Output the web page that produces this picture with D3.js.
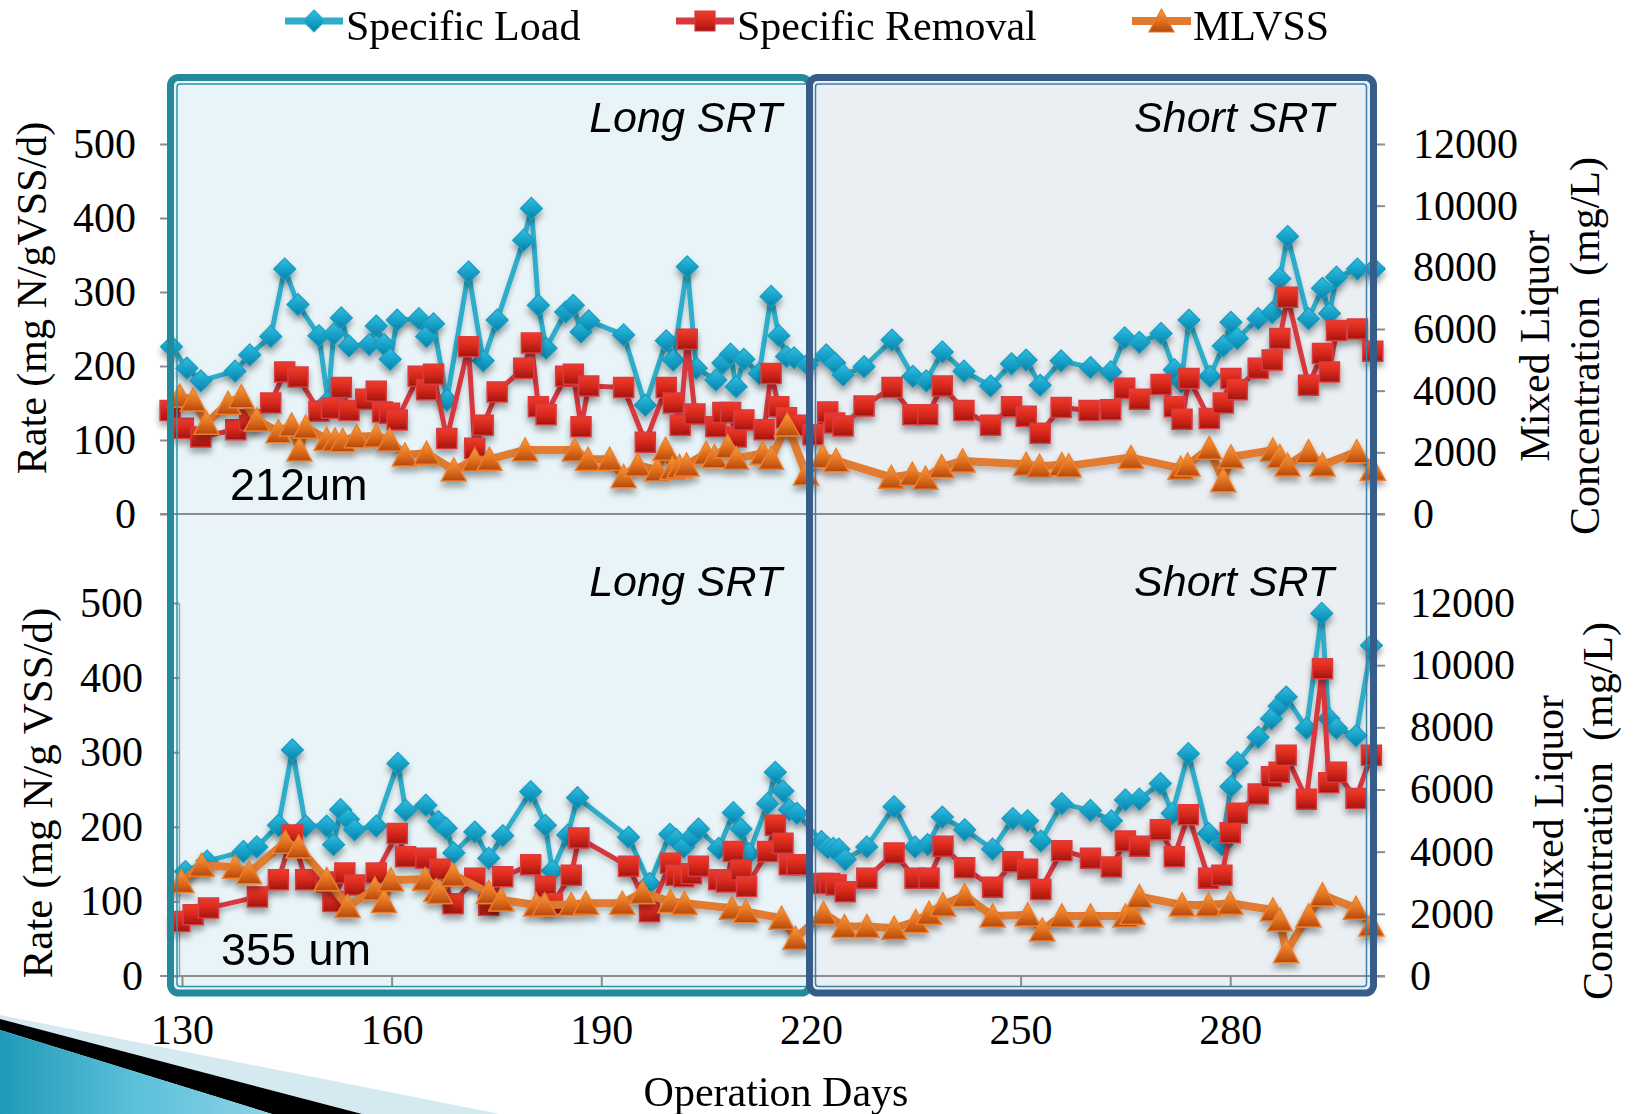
<!DOCTYPE html>
<html><head><meta charset="utf-8">
<script src="https://cdn.jsdelivr.net/npm/d3@7"></script>
<style>
body{margin:0;background:#fff;}
svg{display:block;}
</style>
</head><body>
<svg id="c" width="1635" height="1114"></svg>
<script>
// ---------------- DATA ----------------
const seriesNames = ["Specific Load", "Specific Removal", "MLVSS"];
const xTicks = [130, 160, 190, 220, 250, 280];
const rateTicks = [0, 100, 200, 300, 400, 500];
const mlvssTicks = [0, 2000, 4000, 6000, 8000, 10000, 12000];
const panelLabels = ["212um", "355 um"];
const phaseLabels = ["Long SRT", "Short SRT"];
const leftTitles = ["Rate (mg N/gVSS/d)", "Rate (mg N/g VSS/d)"];
const rightTitle = ["Mixed Liquor", "Concentration  (mg/L)"];
const xTitle = "Operation Days";

// [day, rate mg N/gVSS/d]
const load212 = [[128.5,226],[130.7,197],[132.7,180],[137.6,193],[139.7,215],[142.7,240],[144.7,331],[146.6,283],[149.6,241],[150.9,152],[151.7,243],[152.8,265],[153.9,227],[156.8,229],[157.8,254],[158.9,229],[159.8,209],[160.8,262],[163.9,264],[165,240],[166,257],[167.9,154],[171,327],[173.1,207],[175.1,262],[178.9,370],[180,413],[181,282],[182.1,224],[184.9,273],[186,282],[187.1,246],[188.2,261],[193.2,242],[196.3,147],[199.3,234],[200.3,208],[202.3,334],[203.6,197],[206.4,181],[207.4,204],[208.5,216],[209.3,172],[210.4,209],[212.6,190],[214.3,294],[215.4,241],[216.5,213],[217.6,211],[219.5,202],[222.2,215],[223.4,204],[224.6,188],[227.6,199],[231.6,235],[234.6,186],[236.5,180],[238.8,219],[241.9,193],[245.7,173],[248.7,203],[250.8,208],[252.8,174],[255.8,207],[260,198],[262.9,192],[264.9,238],[267,232],[270.1,244],[272,195],[273,179],[274.1,262],[277.1,186],[279,227],[280.1,259],[281,237],[284,264],[286,272],[287.1,318],[288.2,375],[291.2,264],[293.2,305],[294.2,271],[295.2,320],[298.2,331],[300.6,331]];
const removal212 = [[128.3,140],[130.2,116],[132.7,104],[137.7,114],[139.7,127],[142.7,150],[144.7,192],[146.6,185],[149.6,139],[151.4,143],[152.8,171],[153.9,140],[156.3,155],[157.8,166],[158.7,138],[159.7,136],[160.8,127],[163.8,186],[165,168],[166,189],[167.9,102],[171,226],[171.9,89],[173.1,120],[175.1,165],[178.9,197],[180,231],[181,145],[182.1,134],[184.9,186],[186,189],[187.1,118],[188.2,173],[193.2,171],[196.3,97],[199.3,171],[200.3,150],[201.3,120],[202.3,236],[203.4,135],[206.4,118],[207.4,137],[208.5,137],[209.3,104],[210.4,127],[213.3,114],[214.3,190],[215.4,145],[216.5,130],[218,120],[220.3,107],[222.4,138],[223.4,123],[224.6,119],[227.6,146],[231.6,171],[234.6,134],[236.7,134],[238.8,173],[241.9,140],[245.7,120],[248.7,145],[250.8,132],[252.8,109],[255.8,144],[259.8,140],[262.9,141],[264.9,170],[267,155],[270.1,175],[272,145],[273.1,128],[274.1,183],[277,129],[279,150],[280.1,183],[281,168],[284,197],[286,208],[287.1,237],[288.2,293],[291.2,174],[293.2,217],[294.2,192],[295.2,248],[298.2,250],[300.4,220]];
// [day, MLVSS mg/L]
const mlvss212 = [[129.7,3827],[131.6,3697],[133.5,2941],[136.6,3590],[138.5,3805],[140.7,3049],[143.8,2670],[145.7,2886],[146.8,2076],[147.7,2811],[150.7,2422],[151.9,2400],[153,2378],[155,2508],[157.8,2530],[159.7,2400],[161.9,1913],[165,1968],[168.9,1427],[171.9,1751],[174,1773],[179.1,2076],[186.2,2076],[188.1,1773],[191.2,1773],[193.2,1211],[195.2,1589],[198,1427],[199.2,2098],[200.2,1480],[201.2,1535],[202.2,1589],[205,1968],[206.2,1859],[208.1,2184],[209.3,1806],[213.1,1968],[214.3,1806],[216.6,2886],[219.3,1300],[221.7,1859],[223.6,1730],[231.5,1189],[234.5,1290],[236.4,1157],[238.7,1530],[241.7,1720],[250.8,1610],[252.7,1550],[255.9,1600],[256.9,1560],[265.8,1830],[272.9,1481],[273.9,1589],[277,2130],[279,1075],[280.1,1850],[286.1,2070],[287.1,1859],[288.2,1589],[291.2,2020],[293.2,1590],[298.1,2020],[300.4,1450]];

const load355 = [[130.5,140],[133.6,154],[138.8,167],[140.7,173],[143.8,202],[145.8,303],[147.7,201],[150.7,201],[151.7,176],[152.7,223],[153.8,210],[154.7,196],[157.8,201],[160.9,285],[162,222],[164.9,229],[166.7,207],[167.8,198],[168.9,165],[171.9,193],[173.9,158],[175.9,188],[179.9,247],[182,202],[183,141],[185.2,189],[186.6,239],[193.9,186],[196.9,124],[199.8,190],[200.7,183],[201.8,173],[202.9,186],[203.9,197],[206.8,171],[208.9,219],[210,197],[211.1,164],[213.8,231],[214.9,273],[216,248],[216.9,223],[218,218],[221.5,180],[222.4,172],[223.2,171],[224,170],[224.9,156],[228,173],[231.9,227],[234.9,173],[236.7,176],[238.8,213],[242,196],[246,170],[248.9,211],[251,208],[252.9,181],[255.9,231],[260,222],[263,208],[265,236],[267,237],[270,258],[271.7,218],[274,298],[276.9,191],[278.8,176],[280.1,254],[281,286],[284,320],[285.9,345],[287,362],[288,374],[290.9,332],[293.1,486],[294.1,345],[295.2,332],[298,322],[300.2,443]];
const removal355 = [[129.7,73],[131.6,82],[133.8,91],[140.8,106],[143.8,129],[145.8,189],[147.7,129],[150.7,126],[151.6,100],[153.3,138],[154.7,122],[157.8,138],[160.8,191],[162,160],[164.9,158],[166.9,143],[168.8,97],[171.9,131],[173.9,95],[175.9,133],[179.9,149],[182,120],[183,97],[185.7,135],[186.8,185],[193.9,147],[196.9,86],[199.9,151],[200.7,135],[201.8,133],[202.9,137],[203.9,147],[206.8,129],[207.9,126],[208.9,167],[210,142],[210.8,120],[213.8,167],[214.9,202],[216,178],[216.9,149],[218,149],[221.7,124],[222.7,124],[223.6,122],[224.9,113],[228,131],[231.9,165],[234.9,131],[236.9,131],[238.9,174],[242,145],[246,119],[248.9,153],[251,143],[252.9,116],[255.9,168],[260,158],[263,146],[265,181],[267,174],[270,196],[272,160],[274,216],[276.9,131],[278.8,135],[280,192],[281,218],[284,244],[285.9,267],[287,273],[288,296],[290.9,237],[293.2,412],[294.1,259],[295.2,273],[298,238],[300.2,296]];
const mlvss355 = [[129.9,3037],[132.8,3560],[137.6,3500],[139.6,3320],[144.8,4300],[146.7,4150],[150.7,3100],[153.7,2232],[157.6,2800],[158.9,2393],[159.9,3091],[164.8,3113],[166.4,2750],[166.9,2683],[168.8,3252],[173.9,2683],[175.7,2447],[180.7,2286],[181.9,2286],[185.7,2300],[187.8,2341],[193,2341],[195.9,2683],[199.9,2393],[201.9,2341],[208.7,2179],[210.7,2071],[215.8,1858],[217.8,1214],[221.8,2018],[224.8,1589],[228,1589],[231.9,1535],[235,1750],[236.9,2018],[238.9,2286],[242,2590],[246,1932],[251,1964],[253.1,1481],[255.9,1932],[260,1932],[265,1932],[266,2018],[267,2554],[273.1,2286],[276.9,2286],[280,2341],[286.1,2125],[287.1,1803],[288,782],[291.2,1932],[293.2,2608],[298,2179],[300.2,1642]];

// ---------------- DRAWING ----------------
const svg = d3.select("#c");
const defs = svg.append("defs");
function grad(id, stops, x2 = 0, y2 = 1) {
  const g = defs.append("linearGradient").attr("id", id)
    .attr("x1", 0).attr("y1", 0).attr("x2", x2).attr("y2", y2);
  stops.forEach(([o, c]) => g.append("stop").attr("offset", o).attr("stop-color", c));
}
grad("gBlue", [[0, "#35bfe0"], [0.5, "#17a2c9"], [1, "#0a7fa6"]]);
grad("gRed", [[0, "#f03c2c"], [0.5, "#d6281c"], [1, "#a0150d"]]);
grad("gOrange", [[0, "#f6a03e"], [0.55, "#df6f1e"], [1, "#b4480c"]]);
grad("gDeco", [[0, "#1f9ab8"], [0.5, "#5cc0da"], [1, "#8dd3e6"]], 1, 0);
const f = defs.append("filter").attr("id", "sh").attr("x", "-30%").attr("y", "-30%").attr("width", "160%").attr("height", "180%");
f.append("feDropShadow").attr("dx", 0).attr("dy", 5).attr("stdDeviation", 3)
  .attr("flood-color", "#000").attr("flood-opacity", 0.35);
const fl = defs.append("filter").attr("id", "shl").attr("x", "-5%").attr("y", "-20%").attr("width", "110%").attr("height", "140%");
fl.append("feDropShadow").attr("dx", 0).attr("dy", 4).attr("stdDeviation", 2.5)
  .attr("flood-color", "#000").attr("flood-opacity", 0.22);

const serif = "'Liberation Serif','Times New Roman',serif";
const sans = "'Liberation Sans',Arial,sans-serif";

// bottom-left slide decoration
const deco = svg.append("g");
deco.append("polygon").attr("points", "0,1015 500,1114 360,1114 0,1019").attr("fill", "#d5e9f1");
deco.append("polygon").attr("points", "0,1019 362,1114 272,1114 0,1030").attr("fill", "#000");
deco.append("polygon").attr("points", "0,1030 272,1114 0,1114").attr("fill", "url(#gDeco)");

// frame fills
const frameL = {x: 170.5, y: 77.5, w: 639, h: 915.5};
const frameR = {x: 809.5, y: 77.5, w: 564, h: 915.5};
svg.append("rect").attr("x", frameL.x).attr("y", frameL.y).attr("width", frameL.w).attr("height", frameL.h)
  .attr("rx", 8).attr("fill", "#e8f4f8");
svg.append("rect").attr("x", frameR.x).attr("y", frameR.y).attr("width", frameR.w).attr("height", frameR.h)
  .attr("rx", 8).attr("fill", "#eaeff3");

const x = d3.scaleLinear().domain([128, 301]).range([168, 1377]);

const panels = [
  {load: load212, removal: removal212, mlvss: mlvss212, yBase: 514, yTop: 144,
   leftX: 168, leftTick: 8, leftPad: 24, rightPad: 28, label: panelLabels[0], labelX: 230, labelY: 500,
   phaseY: 132, title: leftTitles[0], titleX: 32, titleY: 298, rtY: 346, rtX1: 1535, rtX2: 1585},
  {load: load355, removal: removal355, mlvss: mlvss355, yBase: 976, yTop: 603,
   leftX: 179, leftTick: 5, leftPad: 31, rightPad: 25, label: panelLabels[1], labelX: 221, labelY: 965,
   phaseY: 596, title: leftTitles[1], titleX: 37, titleY: 793, rtY: 811, rtX1: 1549, rtX2: 1598}
];

const diamond = "M0,-11L11,0L0,11L-11,0Z";
const square = "M-10,-10H10V10H-10Z";
const tri = "M0,-12L12.5,11L-12.5,11Z";

panels.forEach((p, i) => {
  const y = d3.scaleLinear().domain([0, 500]).range([p.yBase, p.yTop]);
  const yR = d3.scaleLinear().domain([0, 12000]).range([p.yBase, p.yTop]);
  const g = svg.append("g");

  // x-axis baseline (zero line)
  g.append("line").attr("x1", x(128) - 8).attr("x2", x(301) + 8)
    .attr("y1", y(0)).attr("y2", y(0)).attr("stroke", "#8c8c8c").attr("stroke-width", 2);

  // left axis
  const la = g.append("g").attr("transform", `translate(${p.leftX},0)`)
    .call(d3.axisLeft(y).tickValues(rateTicks).tickSize(p.leftTick).tickSizeOuter(0).tickPadding(p.leftPad));
  la.select(".domain").attr("stroke", i === 1 ? "#a0a0a0" : "none").attr("stroke-width", 1.5);
  la.selectAll(".tick line").attr("stroke", "#8c8c8c").attr("stroke-width", 2);
  la.selectAll("text").attr("font-family", serif).attr("font-size", 42).attr("fill", "#000");

  // right axis
  const ra = g.append("g").attr("transform", `translate(${x(301)},0)`)
    .call(d3.axisRight(yR).tickValues(mlvssTicks).tickFormat(d3.format("d")).tickSize(8).tickSizeOuter(0).tickPadding(p.rightPad));
  ra.select(".domain").attr("stroke", "none");
  ra.selectAll(".tick line").attr("stroke", "#8c8c8c").attr("stroke-width", 2);
  ra.selectAll("text").attr("font-family", serif).attr("font-size", 42).attr("fill", "#000");

  // bottom axis (only lower panel has ticks + labels)
  if (i === 1) {
    const ba = g.append("g").attr("transform", `translate(0,${y(0)})`)
      .call(d3.axisBottom(x).tickValues(xTicks).tickFormat(d3.format("d")).tickSize(11).tickSizeOuter(0).tickPadding(27));
    ba.select(".domain").attr("stroke", "none");
    ba.selectAll(".tick line").attr("stroke", "#8c8c8c").attr("stroke-width", 2);
    ba.selectAll("text").attr("font-family", serif).attr("font-size", 42).attr("fill", "#000");
  }

  const lineRate = d3.line().x(d => x(d[0])).y(d => y(d[1]));
  const lineM = d3.line().x(d => x(d[0])).y(d => yR(d[1]));

  // Specific Load
  const s1 = g.append("g");
  s1.append("path").datum(p.load).attr("d", lineRate).attr("fill", "none")
    .attr("stroke", "#2fadca").attr("stroke-width", 5).attr("stroke-linejoin", "round").attr("filter", "url(#shl)");
  s1.append("g").attr("filter", "url(#sh)").selectAll("path").data(p.load).join("path")
    .attr("d", diamond).attr("transform", d => `translate(${x(d[0])},${y(d[1])})`)
    .attr("fill", "url(#gBlue)").attr("stroke", "#1a9cc0").attr("stroke-width", 1.2);

  // Specific Removal
  const s2 = g.append("g");
  s2.append("path").datum(p.removal).attr("d", lineRate).attr("fill", "none")
    .attr("stroke", "#d8383e").attr("stroke-width", 5).attr("stroke-linejoin", "round").attr("filter", "url(#shl)");
  s2.append("g").attr("filter", "url(#sh)").selectAll("path").data(p.removal).join("path")
    .attr("d", square).attr("transform", d => `translate(${x(d[0])},${y(d[1])})`)
    .attr("fill", "url(#gRed)").attr("stroke", "#d83a40").attr("stroke-width", 1.5);

  // MLVSS
  const s3 = g.append("g");
  s3.append("path").datum(p.mlvss).attr("d", lineM).attr("fill", "none")
    .attr("stroke", "#e27b30").attr("stroke-width", 8).attr("stroke-linejoin", "round").attr("filter", "url(#shl)");
  s3.append("g").attr("filter", "url(#sh)").selectAll("path").data(p.mlvss).join("path")
    .attr("d", tri).attr("transform", d => `translate(${x(d[0])},${yR(d[1])})`)
    .attr("fill", "url(#gOrange)").attr("stroke", "#ec7f2e").attr("stroke-width", 1.5);

  // annotations
  g.append("text").attr("x", 782).attr("y", p.phaseY).attr("text-anchor", "end")
    .attr("font-family", sans).attr("font-style", "italic").attr("font-size", 43).text(phaseLabels[0]);
  g.append("text").attr("x", 1334).attr("y", p.phaseY).attr("text-anchor", "end")
    .attr("font-family", sans).attr("font-style", "italic").attr("font-size", 43).text(phaseLabels[1]);
  g.append("text").attr("x", p.labelX).attr("y", p.labelY)
    .attr("font-family", sans).attr("font-size", 45).text(p.label);

  // axis titles
  g.append("text").attr("transform", `translate(${p.titleX},${p.titleY}) rotate(-90)`)
    .attr("text-anchor", "middle").attr("dominant-baseline", "central")
    .attr("font-family", serif).attr("font-size", i === 0 ? 42 : 43).text(p.title);
  g.append("text").attr("transform", `translate(${p.rtX1},${p.rtY}) rotate(-90)`)
    .attr("text-anchor", "middle").attr("dominant-baseline", "central")
    .attr("font-family", serif).attr("font-size", 41.5).text(rightTitle[0]);
  g.append("text").attr("transform", `translate(${p.rtX2},${p.rtY}) rotate(-90)`)
    .attr("text-anchor", "middle").attr("dominant-baseline", "central").style("white-space", "pre")
    .attr("font-family", serif).attr("font-size", 42).text(rightTitle[1]);
});

// frame strokes on top
svg.append("rect").attr("x", frameL.x).attr("y", frameL.y).attr("width", frameL.w).attr("height", frameL.h)
  .attr("rx", 8).attr("fill", "none").attr("stroke", "#23899b").attr("stroke-width", 7);
svg.append("rect").attr("x", frameL.x + 6.5).attr("y", frameL.y + 6.5).attr("width", frameL.w - 6.5).attr("height", frameL.h - 13)
  .attr("rx", 3).attr("fill", "none").attr("stroke", "#2b94a7").attr("stroke-width", 1.5);
svg.append("rect").attr("x", frameR.x + 6).attr("y", frameR.y + 6.5).attr("width", frameR.w - 13).attr("height", frameR.h - 13)
  .attr("rx", 3).attr("fill", "none").attr("stroke", "#3f7fa6").attr("stroke-width", 1.5);
svg.append("rect").attr("x", frameR.x).attr("y", frameR.y).attr("width", frameR.w).attr("height", frameR.h)
  .attr("rx", 8).attr("fill", "none").attr("stroke", "#365d89").attr("stroke-width", 7);

// x title
svg.append("text").attr("x", 776).attr("y", 1106).attr("text-anchor", "middle")
  .attr("font-family", serif).attr("font-size", 42).text(xTitle);

// legend
const legendItems = [
  {name: seriesNames[0], x1: 285, x2: 343, tx: 346, shape: diamond, fill: "url(#gBlue)", stroke: "#2fadca", sw: 7},
  {name: seriesNames[1], x1: 676, x2: 734, tx: 737, shape: square, fill: "url(#gRed)", stroke: "#d8383e", sw: 7},
  {name: seriesNames[2], x1: 1132, x2: 1191, tx: 1193, shape: tri, fill: "url(#gOrange)", stroke: "#e27b30", sw: 8}
];
const lg = svg.append("g");
legendItems.forEach(it => {
  lg.append("line").attr("x1", it.x1).attr("x2", it.x2).attr("y1", 21).attr("y2", 21)
    .attr("stroke", it.stroke).attr("stroke-width", it.sw);
  lg.append("path").attr("d", it.shape).attr("transform", `translate(${(it.x1 + it.x2) / 2},21)`)
    .attr("fill", it.fill).attr("stroke", it.stroke).attr("stroke-width", 1.2);
  lg.append("text").attr("x", it.tx).attr("y", 40).attr("font-family", serif).attr("font-size", 42).text(it.name);
});
</script>
</body></html>
